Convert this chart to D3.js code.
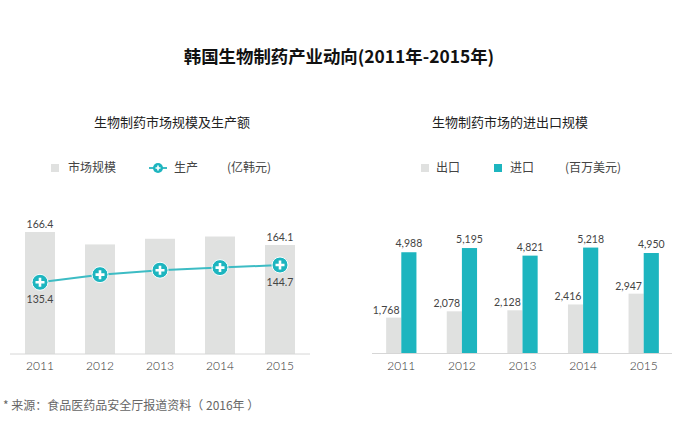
<!DOCTYPE html>
<html>
<head>
<meta charset="utf-8">
<script src="https://cdn.jsdelivr.net/npm/d3@7"></script>
<style>
  body { margin: 0; background: #fff; }
  svg { display: block; font-family: Lato, "Noto Sans CJK SC", sans-serif; }
  .cjk { font-family: "Noto Sans CJK SC", sans-serif; }
</style>
</head>
<body>
<script>
const years = ['2011', '2012', '2013', '2014', '2015'];
// 亿韩元
const marketSize = [166.4, 164.2, 165.2, 165.6, 164.1];
const production = [135.4, 139.5, 141.9, 143.3, 144.7];
// 百万美元
const exportVals = [1768, 2078, 2128, 2416, 2947];
const importVals = [4988, 5195, 4821, 5218, 4950];

const GRAY = '#e0e1e0', TEAL = '#1db5bf', LINE = '#3dbcc4';

const svg = d3.select('body').append('svg')
    .attr('width', 678).attr('height', 442);

// title
svg.append('text').attr('class', 'cjk')
    .attr('x', 339).attr('y', 63).attr('text-anchor', 'middle')
    .attr('font-size', 17.4).attr('font-weight', 'bold').attr('fill', '#111')
    .text('韩国生物制药产业动向(2011年-2015年)');

// ---- left chart
const left = svg.append('g');
left.append('text').attr('class', 'cjk')
    .attr('x', 172).attr('y', 127).attr('text-anchor', 'middle')
    .attr('font-size', 13).attr('fill', '#222')
    .text('生物制药市场规模及生产额');

// legend
const lg = left.append('g').attr('class', 'cjk').attr('font-size', 12).attr('fill', '#444');
lg.append('rect').attr('x', 51).attr('y', 164).attr('width', 8).attr('height', 8).attr('fill', GRAY);
lg.append('text').attr('x', 68).attr('y', 172).text('市场规模');
lg.append('line').attr('x1', 149).attr('x2', 167).attr('y1', 168).attr('y2', 168)
    .attr('stroke', LINE).attr('stroke-width', 2);
lg.append('circle').attr('cx', 158).attr('cy', 168).attr('r', 5).attr('fill', TEAL);
lg.append('path').attr('d', 'M155.5,168H160.5M158,165.5V170.5').attr('stroke', '#fff').attr('stroke-width', 1.6);
lg.append('text').attr('x', 174).attr('y', 172).text('生产');
lg.append('text').attr('x', 227).attr('y', 172).text('(亿韩元)');

const xL = d3.scaleBand().domain(years).range([10, 310]).paddingInner(0.5).paddingOuter(0.25);
const yBar = d3.scaleLinear().domain([144.8, 166.4]).range([354, 232]);
const yLine = d3.scaleLinear().domain([96.8, 144.7]).range([354, 265]);

left.selectAll('.bar').data(years).enter().append('rect')
    .attr('x', d => xL(d))
    .attr('width', xL.bandwidth())
    .attr('y', (d, i) => yBar(marketSize[i]))
    .attr('height', (d, i) => yBar.range()[0] - yBar(marketSize[i]))
    .attr('fill', GRAY);

left.append('line').attr('x1', 10).attr('x2', 310).attr('y1', 354).attr('y2', 354)
    .attr('stroke', '#d6d6d6').attr('stroke-width', 1);

const cx = d => xL(d) + xL.bandwidth() / 2;
left.append('path')
    .datum(years)
    .attr('d', d3.line().x(cx).y((d, i) => yLine(production[i])))
    .attr('fill', 'none').attr('stroke', LINE).attr('stroke-width', 2);

const mk = left.selectAll('.mk').data(years).enter().append('g')
    .attr('transform', (d, i) => `translate(${cx(d)},${yLine(production[i])})`);
mk.append('circle').attr('r', 8).attr('fill', TEAL).attr('stroke', '#fff').attr('stroke-width', 1);
mk.append('path').attr('d', 'M-4.5,0H4.5M0,-4.5V4.5').attr('stroke', '#fff').attr('stroke-width', 2.6);

// value labels (first and last only)
[0, 4].forEach(i => {
    left.append('text').attr('x', cx(years[i])).attr('y', yBar(marketSize[i]) - 4)
        .attr('text-anchor', 'middle').attr('font-size', 10.5).attr('fill', '#444')
        .text(marketSize[i].toFixed(1));
    left.append('text').attr('x', cx(years[i])).attr('y', yLine(production[i]) + 21)
        .attr('text-anchor', 'middle').attr('font-size', 10.5).attr('fill', '#444')
        .text(production[i].toFixed(1));
});

left.selectAll('.yr').data(years).enter().append('text')
    .attr('x', cx).attr('y', 370).attr('text-anchor', 'middle')
    .attr('font-size', 12).attr('font-weight', 300).attr('fill', '#333').text(d => d);

// ---- right chart
const right = svg.append('g');
right.append('text').attr('class', 'cjk')
    .attr('x', 510).attr('y', 127).attr('text-anchor', 'middle')
    .attr('font-size', 13).attr('fill', '#222')
    .text('生物制药市场的进出口规模');

const rg = right.append('g').attr('class', 'cjk').attr('font-size', 12).attr('fill', '#444');
rg.append('rect').attr('x', 421).attr('y', 164).attr('width', 8).attr('height', 8).attr('fill', GRAY);
rg.append('text').attr('x', 436).attr('y', 172).text('出口');
rg.append('rect').attr('x', 494).attr('y', 164).attr('width', 8).attr('height', 8).attr('fill', TEAL);
rg.append('text').attr('x', 510).attr('y', 172).text('进口');
rg.append('text').attr('x', 565).attr('y', 172).text('(百万美元)');

const xR = d3.scaleBand().domain(years).range([371, 674]).paddingInner(0.5).paddingOuter(0.25);
const xSub = d3.scaleBand().domain(['export', 'import']).range([0, xR.bandwidth()]);
const yR = d3.scaleLinear().domain([0, 5000]).range([353.5, 252]);
const fmt = d3.format(',');

const grp = right.selectAll('.grp').data(years).enter().append('g')
    .attr('transform', d => `translate(${xR(d)},0)`);
grp.append('rect')
    .attr('x', xSub('export')).attr('width', xSub.bandwidth())
    .attr('y', (d, i) => yR(exportVals[i]))
    .attr('height', (d, i) => yR(0) - yR(exportVals[i]))
    .attr('fill', GRAY);
grp.append('rect')
    .attr('x', xSub('import')).attr('width', xSub.bandwidth())
    .attr('y', (d, i) => yR(importVals[i]))
    .attr('height', (d, i) => yR(0) - yR(importVals[i]))
    .attr('fill', TEAL);
grp.append('text')
    .attr('x', xSub('export')).attr('y', (d, i) => yR(exportVals[i]) - 4)
    .attr('text-anchor', 'middle').attr('font-size', 10.5).attr('fill', '#444')
    .text((d, i) => fmt(exportVals[i]));
grp.append('text')
    .attr('x', xSub('import') + xSub.bandwidth() / 2).attr('y', (d, i) => yR(importVals[i]) - 5)
    .attr('text-anchor', 'middle').attr('font-size', 10.5).attr('fill', '#444')
    .text((d, i) => fmt(importVals[i]));
grp.append('text')
    .attr('x', xR.bandwidth() / 2).attr('y', 370).attr('text-anchor', 'middle')
    .attr('font-size', 12).attr('font-weight', 300).attr('fill', '#333').text(d => d);

right.append('line').attr('x1', 372).attr('x2', 672).attr('y1', 353.5).attr('y2', 353.5)
    .attr('stroke', '#d6d6d6').attr('stroke-width', 1);

// footnote
svg.append('text').attr('class', 'cjk')
    .attr('x', 3).attr('y', 410).attr('font-size', 12).attr('fill', '#666')
    .text('* 来源：食品医药品安全厅报道资料（ 2016年 ）');
</script>
</body>
</html>
